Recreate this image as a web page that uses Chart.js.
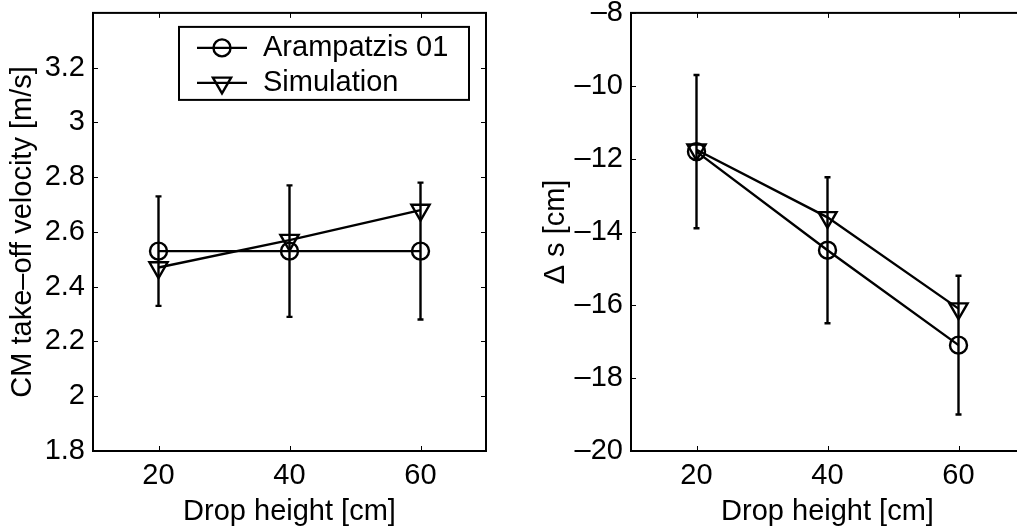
<!DOCTYPE html>
<html lang="en">
<head>
<meta charset="UTF-8">
<title>Drop jumps: take-off velocity and CM lowering</title>
<script src="https://cdn.jsdelivr.net/npm/chart.js"></script>
<style>
    body {
        margin: 0;
        background: white;
        overflow: hidden;
        width: 1017px;
        height: 527px;
        position: relative;
    }
    .panel { position: absolute; top: 0; height: 527px; }
    #left { left: 0; width: 500px; }
    #right { left: 500px; width: 540px; } /* runs past the window edge on purpose */
</style>
</head>
<body>
<div class="panel" id="left"><canvas id="velChart"></canvas></div>
<div class="panel" id="right"><canvas id="dsChart"></canvas></div>

<script>
const dropHeights = [20, 40, 60];
const xTicks = [20, 40, 60];
const seriesNames = ['Arampatzis 01', 'Simulation'];

// CM take-off velocity [m/s]
const velArampatzis = [2.53, 2.53, 2.53];
const velArampatzisLow = [2.33, 2.29, 2.28];
const velArampatzisHigh = [2.73, 2.77, 2.78];
const velSimulation = [2.47, 2.57, 2.68];
const velTicks = [1.8, 2, 2.2, 2.4, 2.6, 2.8, 3, 3.2];

// delta s [cm]
const dsArampatzis = [-11.8, -14.5, -17.1];
const dsArampatzisLow = [-13.9, -16.5, -19.0];
const dsArampatzisHigh = [-9.7, -12.5, -15.2];
const dsSimulation = [-11.75, -13.6, -16.1];
const dsTicks = [-20, -18, -16, -14, -12, -10, -8];

const FONT = '"Liberation Sans", Arial, Helvetica, sans-serif';
const FONT_SIZE = 29;
Chart.defaults.font.family = FONT;
Chart.defaults.font.size = FONT_SIZE;
Chart.defaults.color = '#000';

function fmt(v) {
    const s = String(+v.toFixed(2));
    return s.replace('-', '\u2013'); // matlab-style long minus
}

function points(vals) {
    return dropHeights.map((x, i) => ({ x: x, y: vals[i] }));
}

// vertical error bars with small caps, drawn under the lines
const errorBars = {
    id: 'errorBars',
    beforeDatasetsDraw(chart, args, opts) {
        const { ctx, scales: { x, y } } = chart;
        ctx.save();
        ctx.strokeStyle = '#000';
        ctx.lineWidth = 2.4;
        dropHeights.forEach((h, i) => {
            const px = x.getPixelForValue(h);
            const lo = y.getPixelForValue(opts.low[i]);
            const hi = y.getPixelForValue(opts.high[i]);
            ctx.beginPath();
            ctx.moveTo(px, lo); ctx.lineTo(px, hi);
            ctx.moveTo(px - 3, lo); ctx.lineTo(px + 3, lo);
            ctx.moveTo(px - 3, hi); ctx.lineTo(px + 3, hi);
            ctx.stroke();
        });
        ctx.restore();
    }
};

// box round the plot with inward ticks on all four sides
const frame = {
    id: 'frame',
    afterDatasetsDraw(chart) {
        const { ctx, chartArea: a, scales: { x, y } } = chart;
        ctx.save();
        ctx.strokeStyle = '#000';
        ctx.lineWidth = 1;
        ctx.beginPath();
        x.ticks.forEach(t => {
            const px = Math.round(x.getPixelForValue(t.value)) + 0.5;
            ctx.moveTo(px, a.bottom); ctx.lineTo(px, a.bottom - 5);
            ctx.moveTo(px, a.top); ctx.lineTo(px, a.top + 5);
        });
        y.ticks.forEach(t => {
            const py = Math.round(y.getPixelForValue(t.value)) + 0.5;
            ctx.moveTo(a.left, py); ctx.lineTo(a.left + 5, py);
            ctx.moveTo(a.right, py); ctx.lineTo(a.right - 5, py);
        });
        ctx.stroke();
        ctx.lineWidth = 2;
        ctx.strokeRect(a.left, a.top, a.right - a.left, a.bottom - a.top);
        ctx.restore();
    }
};

function marker(ctx, ds, x, y) {
    const opts = {
        pointStyle: ds.pointStyle,
        rotation: ds.pointRotation || 0,
        radius: ds.pointRadius,
        borderWidth: ds.pointBorderWidth
    };
    if (Chart.helpers && Chart.helpers.drawPoint) {
        Chart.helpers.drawPoint(ctx, opts, x, y);
        return;
    }
    const r = opts.radius;
    ctx.beginPath();
    if (opts.pointStyle === 'circle') {
        ctx.arc(x, y, r, 0, Math.PI * 2);
    } else {
        ctx.moveTo(x, y + r);
        ctx.lineTo(x - 0.866 * r, y - r / 2);
        ctx.lineTo(x + 0.866 * r, y - r / 2);
        ctx.closePath();
    }
    ctx.stroke();
}

// boxed legend in the top right corner of the plot
const boxLegend = {
    id: 'boxLegend',
    afterDraw(chart, args, opts) {
        if (!opts.show) return;
        const { ctx, chartArea: a } = chart;
        const w = 290, h = 73;
        const x0 = a.right - 17 - w, y0 = a.top + 14;
        ctx.save();
        ctx.fillStyle = '#fff';
        ctx.fillRect(x0, y0, w, h);
        ctx.strokeStyle = '#000';
        ctx.lineWidth = 2;
        ctx.strokeRect(x0, y0, w, h);
        chart.data.datasets.forEach((ds, i) => {
            const yy = y0 + 21 + i * 35;
            ctx.lineWidth = ds.borderWidth;
            ctx.beginPath();
            ctx.moveTo(x0 + 18, yy);
            ctx.lineTo(x0 + 68, yy);
            ctx.stroke();
            ctx.fillStyle = 'rgba(0,0,0,0)';
            ctx.lineWidth = ds.pointBorderWidth;
            marker(ctx, ds, x0 + 43, yy);
            ctx.fillStyle = '#000';
            ctx.font = FONT_SIZE + 'px ' + FONT;
            ctx.textBaseline = 'middle';
            ctx.textAlign = 'left';
            ctx.fillText(ds.label, x0 + 84, yy);
        });
        ctx.restore();
    }
};

function makeChart(id, cfg) {
    const line = { borderColor: '#000', borderWidth: 2.4, tension: 0,
                   pointBorderColor: '#000', pointBackgroundColor: 'rgba(0,0,0,0)',
                   pointBorderWidth: 2.4 };
    return new Chart(document.getElementById(id), {
        type: 'line',
        data: {
            datasets: [
                Object.assign({ label: seriesNames[0], data: points(cfg.ref),
                                pointStyle: 'circle', pointRadius: 8.5 }, line),
                Object.assign({ label: seriesNames[1], data: points(cfg.sim),
                                pointStyle: 'triangle', pointRotation: 180, pointRadius: 10.5 }, line)
            ]
        },
        options: {
            responsive: true,
            maintainAspectRatio: false,
            animation: false,
            layout: { padding: { top: 12, right: cfg.padRight, left: 0, bottom: 0 } },
            scales: {
                x: {
                    type: 'linear',
                    min: 10,
                    max: 70,
                    afterBuildTicks: s => { s.ticks = xTicks.map(v => ({ value: v })); },
                    afterFit: s => { s.height = 76; s.paddingLeft = 0; s.paddingRight = 0; },
                    grid: { display: false, drawTicks: false },
                    border: { display: false },
                    ticks: { padding: 8, color: '#000', callback: v => fmt(v) },
                    title: { display: true, text: 'Drop height [cm]', color: '#000',
                             padding: { top: 0, bottom: -2 } }
                },
                y: {
                    type: 'linear',
                    min: cfg.yMin,
                    max: cfg.yMax,
                    afterBuildTicks: s => { s.ticks = cfg.yTicks.map(v => ({ value: v })); },
                    afterFit: s => { s.width = cfg.yWidth; s.paddingTop = 0; s.paddingBottom = 0; },
                    grid: { display: false, drawTicks: false },
                    border: { display: false },
                    ticks: { padding: 8, color: '#000', callback: v => fmt(v) },
                    title: { display: true, text: cfg.yTitle, color: '#000',
                             padding: { top: cfg.titlePad, bottom: 0 } }
                }
            },
            plugins: {
                legend: { display: false },
                tooltip: { enabled: false },
                errorBars: { low: cfg.low, high: cfg.high },
                boxLegend: { show: cfg.legend }
            }
        },
        plugins: [errorBars, frame, boxLegend]
    });
}

makeChart('velChart', {
    ref: velArampatzis, sim: velSimulation,
    low: velArampatzisLow, high: velArampatzisHigh,
    yMin: 1.8, yMax: 3.4, yTicks: velTicks,
    yTitle: 'CM take\u2013off velocity [m/s]',
    yWidth: 93, titlePad: 6, padRight: 14, legend: true
});

makeChart('dsChart', {
    ref: dsArampatzis, sim: dsSimulation,
    low: dsArampatzisLow, high: dsArampatzisHigh,
    yMin: -20, yMax: -8, yTicks: dsTicks,
    yTitle: '\u0394 s [cm]',
    yWidth: 131, titlePad: 39, padRight: 16, legend: false
});
</script>
</body>
</html>
